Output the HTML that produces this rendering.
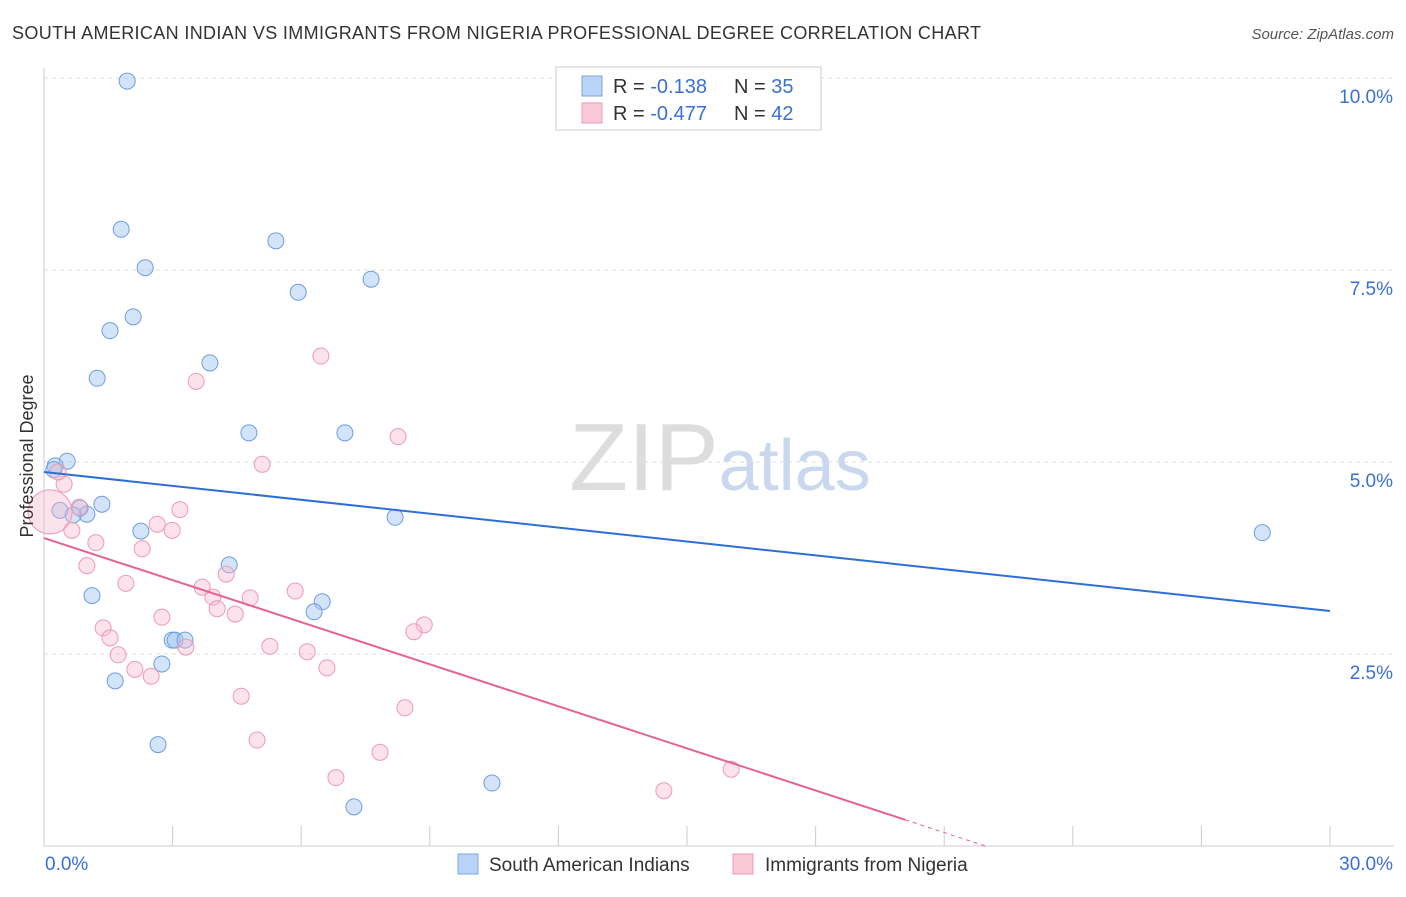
<!DOCTYPE html>
<html><head><meta charset="utf-8"><style>
body{margin:0;background:#fff;font-family:"Liberation Sans",sans-serif;}
svg text{font-family:"Liberation Sans",sans-serif;}
</style></head><body>
<svg id="chart" width="1406" height="892" viewBox="0 0 1406 892" xmlns="http://www.w3.org/2000/svg">
<text x="12" y="39" font-size="18" fill="#333" textLength="969" lengthAdjust="spacing">SOUTH AMERICAN INDIAN VS IMMIGRANTS FROM NIGERIA PROFESSIONAL DEGREE CORRELATION CHART</text>
<text x="1394" y="39" font-size="15" fill="#555" font-style="italic" text-anchor="end">Source: ZipAtlas.com</text>
<text x="720" y="490" font-size="96" text-anchor="middle" fill="#ddd" font-family="Liberation Serif"><tspan>ZIP</tspan><tspan fill="#c9d8ef" font-family="Liberation Sans" font-size="72">atlas</tspan></text>
<g id="grid"></g>
<g id="axes"></g>
<g id="marks"></g>
<text transform="translate(33,456) rotate(-90)" font-size="18" fill="#333" text-anchor="middle">Professional Degree</text>
<g>
<rect x="556" y="67" width="265" height="63" fill="#fff" stroke="#ccc"/>
<rect x="582" y="76" width="20" height="20" fill="#b8d3f5" stroke="#7aa7e0"/>
<rect x="582" y="103" width="20" height="20" fill="#f9c9d8" stroke="#ec99b5"/>
<text x="613" y="93" font-size="20" fill="#333">R = <tspan fill="#3b6fd6">-0.138</tspan><tspan x="734">N = </tspan><tspan fill="#3b6fd6">35</tspan></text>
<text x="613" y="120" font-size="20" fill="#333">R = <tspan fill="#3b6fd6">-0.477</tspan><tspan x="734">N = </tspan><tspan fill="#3b6fd6">42</tspan></text>
</g>
<g>
<rect x="458" y="854" width="20" height="20" fill="#b8d3f5" stroke="#7aa7e0"/>
<text x="489" y="871" font-size="19" fill="#333">South American Indians</text>
<rect x="733" y="854" width="20" height="20" fill="#f9c9d8" stroke="#ec99b5"/>
<text x="765" y="871" font-size="19" fill="#333">Immigrants from Nigeria</text>
</g>
</svg>
<script>
const blueX=[1.94,1.80,5.41,2.36,5.93,7.63,2.08,1.54,3.87,1.24,4.78,7.02,0.54,0.26,0.23,1.35,0.37,0.84,1.00,0.68,2.26,8.19,4.32,1.12,6.49,6.30,2.99,3.06,3.29,2.75,1.66,2.66,10.45,7.23,28.42];
const blueY=[9.96,8.03,7.88,7.53,7.21,7.38,6.89,6.71,6.29,6.09,5.38,5.38,5.01,4.95,4.90,4.45,4.37,4.40,4.32,4.31,4.10,4.28,3.66,3.26,3.18,3.05,2.68,2.68,2.68,2.37,2.15,1.32,0.82,0.51,4.08];
const pinkX=[6.46,3.55,8.26,5.09,0.47,0.33,3.17,0.82,2.64,2.99,0.65,1.21,2.29,1.00,4.25,1.91,3.69,5.86,4.81,3.94,4.04,4.46,2.75,8.87,8.63,1.38,1.54,3.31,5.27,6.14,1.73,2.12,2.50,6.60,4.60,8.42,4.97,7.84,16.03,6.81,14.46,0.14];
const pinkY=[6.38,6.05,5.33,4.97,4.71,4.87,4.38,4.41,4.19,4.11,4.11,3.95,3.87,3.65,3.54,3.42,3.37,3.32,3.23,3.24,3.09,3.02,2.98,2.88,2.79,2.84,2.71,2.59,2.60,2.53,2.49,2.30,2.21,2.32,1.95,1.80,1.38,1.22,1.00,0.89,0.72,4.35];
const yTicks=[2.5,5.0,7.5,10.0];
const xTickLabels=["0.0%","30.0%"];
const blueTrend=[4.87,3.06];
const pinkTrend=[4.01,-0.1826];
const NS="http://www.w3.org/2000/svg";
const X0=44,X1=1330,Y0=846,Y10=78;
const sx=v=>X0+(v/30)*(X1-X0);
const sy=v=>Y0-(v/10)*(Y0-Y10);
function mk(tag,attrs,parent){const e=document.createElementNS(NS,tag);for(const k in attrs)e.setAttribute(k,attrs[k]);parent.appendChild(e);return e;}
const grid=document.getElementById('grid'),axes=document.getElementById('axes'),marks=document.getElementById('marks');
yTicks.forEach(t=>{
  const l=mk('line',{x1:X0,x2:1394,y1:sy(t),y2:sy(t),stroke:'#ddd','stroke-dasharray':'4,4'},grid);
  
  
  const tx=mk('text',{x:1393,y:sy(t)+25,'font-size':19,fill:'#3b6fd6','text-anchor':'end'},axes);
  tx.textContent=t.toFixed(1)+'%';
  
  
});
const ax=mk('line',{x1:X0,x2:X0,y1:68,y2:Y0,stroke:'#ccc'},axes);


const bx=mk('line',{x1:X0,x2:1394,y1:Y0,y2:Y0,stroke:'#ccc'},axes);


for(let i=0;i<=10;i++){const x=sx(i*3);const t=mk('line',{x1:x,x2:x,y1:826,y2:Y0,stroke:'#ccc'},axes);
  
  }
xTickLabels.forEach((s,i)=>{const t=mk('text',{x:i?1393:45,y:870,'font-size':19,fill:'#3b6fd6','text-anchor':i?'end':'start'},axes);t.textContent=s;
  
  });
blueX.forEach((x,i)=>{const c=mk('circle',{cx:sx(x),cy:sy(blueY[i]),r:8,fill:'rgba(160,195,240,0.45)',stroke:'#6d9de0','stroke-width':1},marks);
  
  });
pinkX.forEach((x,i)=>{const big=i===pinkX.length-1;const c=mk('circle',{cx:sx(x),cy:sy(pinkY[i]),r:big?22:8,fill:'rgba(248,185,205,0.4)',stroke:'#ec9ab6','stroke-width':1},marks);
  
  });
const bl=mk('line',{x1:sx(0),y1:sy(blueTrend[0]),x2:sx(30),y2:sy(blueTrend[1]),stroke:'#2d6fd6','stroke-width':2},marks);


const pEnd=20.09,pZero=-pinkTrend[0]/pinkTrend[1];
const pl=mk('line',{x1:sx(0),y1:sy(pinkTrend[0]),x2:sx(pEnd),y2:sy(pinkTrend[0]+pinkTrend[1]*pEnd),stroke:'#e5638f','stroke-width':2},marks);


const pd=mk('line',{x1:sx(pEnd),y1:sy(pinkTrend[0]+pinkTrend[1]*pEnd),x2:sx(pZero),y2:sy(0),stroke:'#e5638f','stroke-width':1,'stroke-dasharray':'4,4'},marks);


</script>
</body></html>
